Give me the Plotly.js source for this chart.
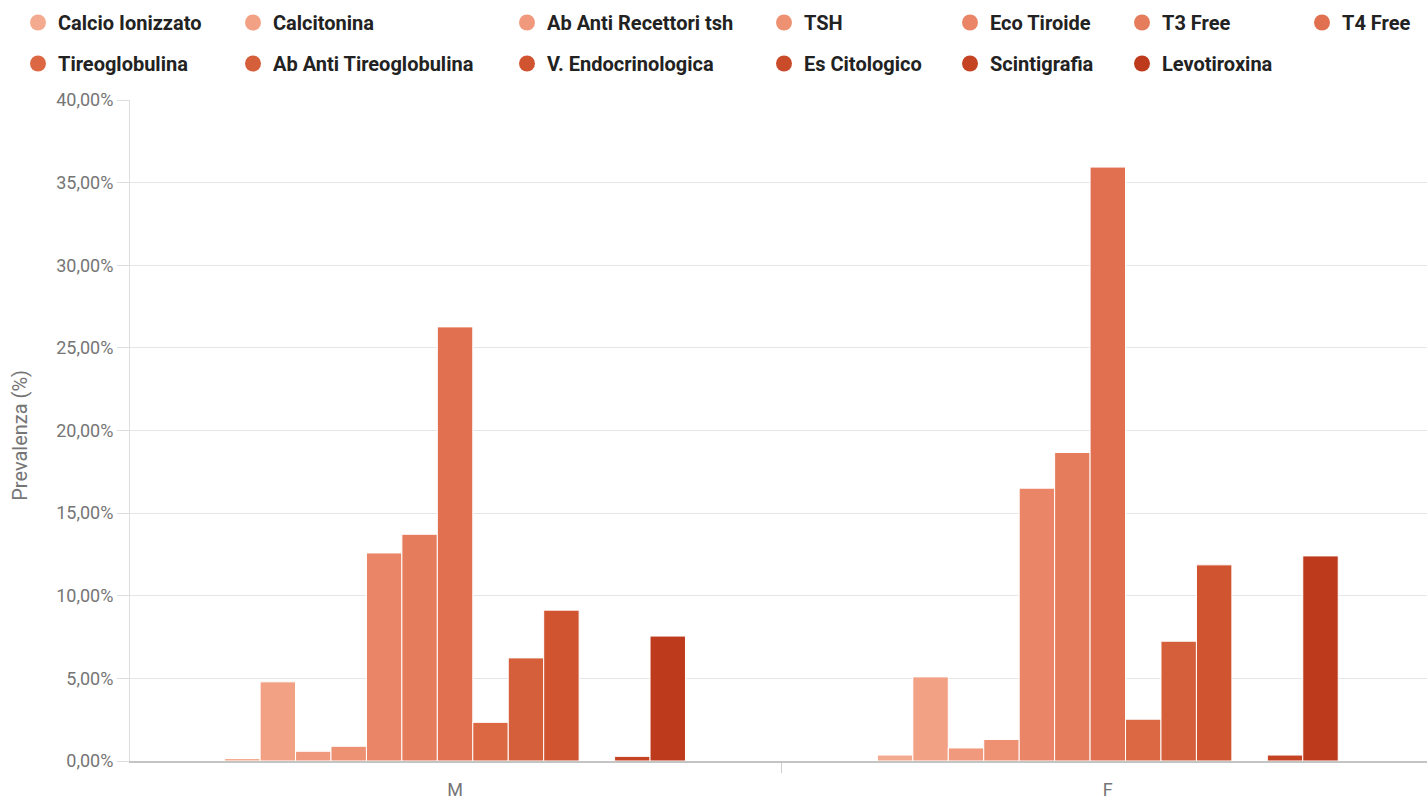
<!DOCTYPE html>
<html>
<head>
<meta charset="utf-8">
<script src="https://cdn.plot.ly/plotly-3.0.1.min.js"></script>
<style>
  html, body { margin: 0; padding: 0; background: #ffffff; }
  #chart { width: 1427px; height: 800px; }
</style>
</head>
<body>
<div id="chart"></div>
<script>
// ---- data ----
const categories = ['M', 'F'];
const seriesNames = [
  'Calcio Ionizzato', 'Calcitonina', 'Ab Anti Recettori tsh', 'TSH', 'Eco Tiroide',
  'T3 Free', 'T4 Free', 'Tireoglobulina', 'Ab Anti Tireoglobulina',
  'V. Endocrinologica', 'Es Citologico', 'Scintigrafia', 'Levotiroxina'
];
const calcioIonizzato      = [0.15, 0.36];
const calcitonina          = [4.79, 5.09];
const abAntiRecettoriTsh   = [0.59, 0.79];
const tsh                  = [0.89, 1.30];
const ecoTiroide           = [12.59, 16.51];
const t3Free               = [13.72, 18.67];
const t4Free               = [26.27, 35.94];
const tireoglobulina       = [2.34, 2.53];
const abAntiTireoglobulina = [6.24, 7.25];
const vEndocrinologica     = [9.13, 11.87];
const esCitologico         = [0, 0];
const scintigrafia         = [0.28, 0.36];
const levotiroxina         = [7.56, 12.41];
const seriesValues = [
  calcioIonizzato, calcitonina, abAntiRecettoriTsh, tsh, ecoTiroide, t3Free, t4Free,
  tireoglobulina, abAntiTireoglobulina, vEndocrinologica, esCitologico, scintigrafia, levotiroxina
];
const yTickValues = [0, 5, 10, 15, 20, 25, 30, 35, 40];
const yTickLabels = yTickValues.map(v => v.toFixed(2).replace('.', ',') + '%');
const yAxisTitle = 'Prevalenza (%)';

// ---- styles ----
const colors = [
  '#F4AA8E', '#F3A185', '#F0997C', '#EE9173', '#EA8567', '#E57C5B', '#E07050',
  '#DC6843', '#D55F3A', '#D05430', '#CA4B2A', '#C44323', '#BE3A1C'
];
// legend column layout (7 columns, 2 rows)
const legendColumnsX = [18, 233, 507, 764, 950, 1122, 1302];

const traces = [];
seriesNames.forEach((name, i) => {
  traces.push({
    type: 'bar',
    name: name,
    x: categories,
    y: seriesValues[i],
    marker: { color: colors[i], line: { color: '#ffffff', width: 1 } },
    showlegend: false,
    hovertemplate: name + ': %{y:.2f}%<extra></extra>'
  });
});
seriesNames.forEach((name, i) => {
  const col = i % 7;
  traces.push({
    type: 'scatter',
    mode: 'markers',
    name: name,
    x: [null],
    y: [null],
    marker: { color: colors[i], size: 18, symbol: 'circle' },
    showlegend: true,
    legend: col === 0 ? 'legend' : 'legend' + (col + 1),
    legendgroup: 'g' + i,
    hoverinfo: 'skip'
  });
});

const W = 1427, H = 800;
const layout = {
  width: W,
  height: H,
  paper_bgcolor: '#ffffff',
  plot_bgcolor: '#ffffff',
  font: { family: 'Roboto, sans-serif', color: '#757575' },
  margin: { l: 130, r: 0, t: 100, b: 39, pad: 0, autoexpand: false },
  barmode: 'group',
  bargap: 0.294,
  bargroupgap: 0,
  xaxis: {
    type: 'category',
    categoryorder: 'array',
    categoryarray: categories,
    range: [-0.498, 1.489],
    tickson: 'boundaries',
    ticks: 'outside',
    ticklen: 10,
    tickcolor: '#cccccc',
    ticklabelstandoff: 12,
    showgrid: false,
    showline: true,
    linecolor: '#c4c4c4',
    linewidth: 1.5,
    tickfont: { size: 18, color: '#757575' },
    zeroline: false
  },
  yaxis: {
    range: [0, 40],
    tickmode: 'array',
    tickvals: yTickValues,
    ticktext: yTickLabels,
    ticks: 'outside',
    ticklen: 12,
    tickcolor: '#dddddd',
    showgrid: true,
    gridcolor: '#e6e6e6',
    gridwidth: 1,
    showline: true,
    linecolor: '#dddddd',
    zeroline: false,
    tickfont: { size: 18, color: '#757575' }
  },
  annotations: [{
    text: yAxisTitle,
    xref: 'paper', yref: 'paper',
    x: -110 / 1297, y: 0.492,
    xanchor: 'center', yanchor: 'middle',
    textangle: -90,
    showarrow: false,
    font: { family: 'Roboto, sans-serif', size: 20, color: '#757575' }
  }],
  showlegend: true
};
legendColumnsX.forEach((px, c) => {
  const key = c === 0 ? 'legend' : 'legend' + (c + 1);
  layout[key] = {
    xref: 'container',
    yref: 'container',
    x: px / W,
    y: 1 - 3 / H,
    xanchor: 'left',
    yanchor: 'top',
    orientation: 'v',
    bgcolor: 'rgba(0,0,0,0)',
    borderwidth: 0,
    tracegroupgap: 12,
    traceorder: 'grouped',
    font: { family: 'Roboto, sans-serif', size: 20, color: '#222222', weight: 'bold' },
    itemclick: false,
    itemdoubleclick: false
  };
});

Plotly.newPlot('chart', traces, layout, { displayModeBar: false, responsive: false });
</script>
</body>
</html>
